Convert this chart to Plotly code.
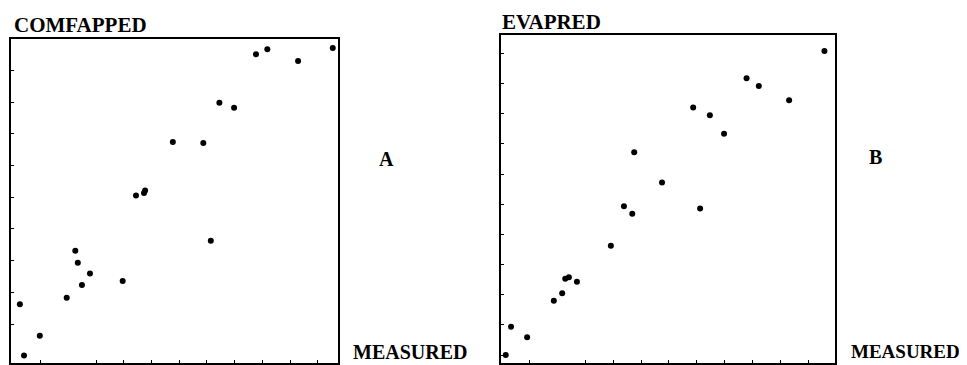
import plotly.graph_objects as go

# ---- data (arbitrary units) ----
measured_a = [-0.75, -0.60, -0.03, 0.94, 1.25, 1.34, 1.49, 1.78, 2.96, 3.44, 3.73, 3.77,
              4.77, 5.87, 6.14, 6.45, 6.98, 7.77, 8.18, 9.29, 10.54]
comfapped_a = [0.62, -0.99, -0.37, 0.83, 2.31, 1.93, 1.23, 1.59, 1.36, 4.05, 4.13, 4.21,
               5.74, 5.71, 2.63, 6.98, 6.82, 8.51, 8.67, 8.30, 8.71]

measured_b = [-0.87, -0.68, -0.10, 0.86, 1.16, 1.27, 1.40, 1.69, 2.91, 3.38, 3.68, 3.75,
              4.75, 5.87, 6.12, 6.47, 6.98, 7.79, 8.23, 9.32, 10.59]
evapred_b = [0.00, 0.94, 0.59, 1.80, 2.05, 2.53, 2.58, 2.43, 3.62, 4.93, 4.68, 6.72,
             5.72, 8.21, 4.86, 7.95, 7.34, 9.18, 8.92, 8.45, 10.08]

x_ticks = [0, 2, 3, 4, 5, 6, 7, 8, 9, 10]
y_ticks_a = [0, 1, 2, 3, 4, 5, 6, 7, 8]
y_ticks_b = [0, 1, 2, 3, 4, 5, 6, 7, 8, 9, 10]

# page body has an 8px margin; the figure is sized to fit the rest of the window
OFF = 8
W, H = 967 - OFF, 365 - OFF
FONT = "Liberation Serif"


def px(x):
    return (x - OFF) / W


def py(y):
    return 1 - (y - OFF) / H


fig = go.Figure()
fig.add_trace(go.Scatter(x=measured_a, y=comfapped_a, mode="markers",
                         marker=dict(color="black", size=6), xaxis="x", yaxis="y",
                         showlegend=False))
fig.add_trace(go.Scatter(x=measured_b, y=evapred_b, mode="markers",
                         marker=dict(color="black", size=6), xaxis="x2", yaxis="y2",
                         showlegend=False))

ax_common = dict(showgrid=False, zeroline=False, showline=True, linecolor="black",
                 linewidth=1.5, mirror=True, ticks="inside", ticklen=3, tickwidth=1,
                 tickcolor="black", showticklabels=False, fixedrange=True)

fig.update_layout(
    width=W, height=H,
    margin=dict(l=0, r=0, t=0, b=0),
    paper_bgcolor="white", plot_bgcolor="white",
    xaxis=dict(domain=[px(11), px(338)], range=[-1.07, 10.73], tickvals=x_ticks,
               anchor="y", **ax_common),
    yaxis=dict(domain=[py(362.7), py(39)], range=[-1.22, 8.99], tickvals=y_ticks_a,
               anchor="x", **ax_common),
    xaxis2=dict(domain=[px(501), px(835)], range=[-1.04, 10.97], tickvals=x_ticks,
                anchor="y2", **ax_common),
    yaxis2=dict(domain=[py(362.7), py(35)], range=[-0.255, 10.61], tickvals=y_ticks_b,
                anchor="x2", **ax_common),
)

labels = [
    ("COMFAPPED", 12, 25, 21),
    ("EVAPRED", 500, 22, 21),
    ("A", 377, 159, 20),
    ("B", 867, 157, 20),
    ("MEASURED", 351, 352, 20),
    ("MEASURED", 849, 351, 19),
]
for txt, x, y, s in labels:
    fig.add_annotation(text="<b>%s</b>" % txt, x=px(x), y=py(y), xref="paper", yref="paper",
                       xanchor="left", yanchor="middle", showarrow=False,
                       font=dict(family=FONT, size=s, color="black"))

fig.write_html("out.html")
